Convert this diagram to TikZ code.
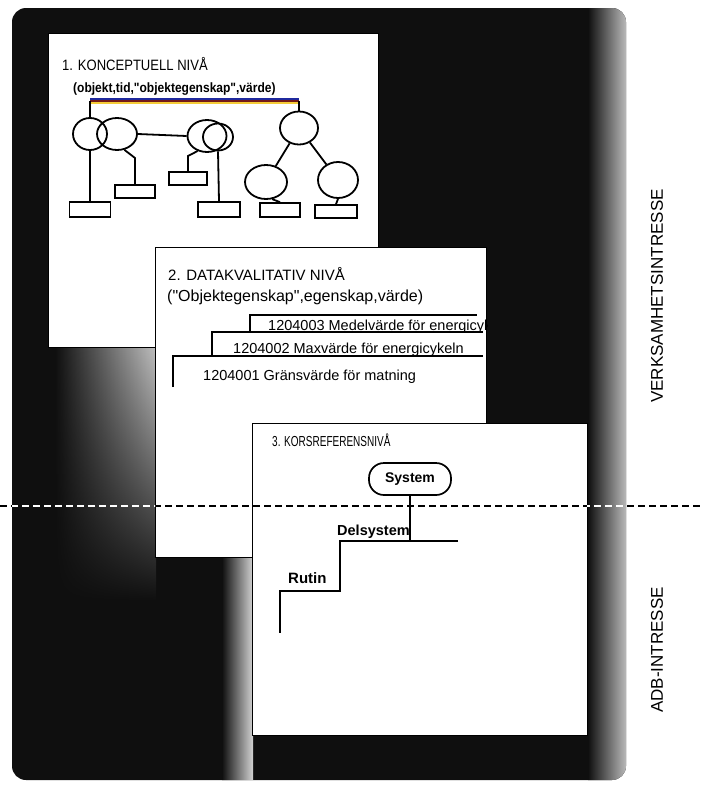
\documentclass[tikz,border=0pt]{standalone}
\usepackage{fontspec}
\setmainfont{Liberation Sans}[Ligatures=TeXOff]
\usetikzlibrary{shapes.geometric,fadings,calc}

\definecolor{panel}{gray}{0.06}
\definecolor{barblue}{rgb}{0.12,0.16,0.62}
\definecolor{barred}{rgb}{0.45,0.10,0.10}
\definecolor{baryellow}{rgb}{0.96,0.80,0.22}
\tikzfading[name=fadedown, top color=transparent!0, bottom color=transparent!100]

\begin{document}
\begin{tikzpicture}[x=1pt, y=-1pt,
  card/.style={draw=black, line width=1.3pt, fill=white, inner sep=0pt, anchor=north west},
  wire/.style={line width=1.8pt},
  obj/.style={ellipse, draw, line width=1.8pt, inner sep=0pt},
  val/.style={rectangle, draw, line width=1.7pt, inner sep=0pt},
  label/.style={inner sep=0pt, anchor=base west},
  rec/.style={inner sep=0pt, anchor=base west, font=\fontsize{14.5}{16}\selectfont},
  side/.style={inner sep=0pt, rotate=90, font=\fontsize{17}{19}\selectfont},
  cut/.style={line width=2pt, dash pattern=on 7pt off 4pt}
]
\useasboundingbox (0,0) rectangle (703,790);
\fill[white] (0,0) rectangle (703,790);

% dark backing panel with its lighter, faded areas
\fill[panel, rounded corners=14pt] (12,8) rectangle (626,780);
\begin{scope}
  \clip[rounded corners=14pt] (12,8) rectangle (626,780);
  \shade[left color=panel, right color=gray!55] (588,8) rectangle (626,780);
  \shade[left color=panel, right color=gray!50, path fading=fadedown] (55,347) rectangle (156,600);
  \shade[left color=panel, right color=gray!35] (222,557) rectangle (253,780);
\end{scope}

% ---- card 1: conceptual level ----
\node[card, minimum width=330, minimum height=314] (c1) at (48,33) {};
\node[label, font=\fontsize{15}{17}\selectfont] (t1) at (62,70) {\scalebox{0.87}[1]{1. KONCEPTUELL NIVÅ}};
\node[label, font=\bfseries\fontsize{13.5}{15}\selectfont] (s1) at (73,92) {\scalebox{0.89}[1]{(objekt,tid,"objektegenskap",värde)}};

\coordinate (barL) at (90,101);
\coordinate (barR) at (299,101);
\draw[barblue, line width=1.6pt] ($(barL)+(0,-2)$) -- ($(barR)+(0,-2)$);
\draw[barred, line width=1.6pt] (barL) -- (barR);
\draw[baryellow, line width=1.4pt] ($(barL)+(0,1.8)$) -- ($(barR)+(0,1.8)$);

\node[obj, minimum width=34, minimum height=32] (A) at (90,134) {};
\node[obj, minimum width=40, minimum height=32] (B) at (117,134) {};
\node[obj, minimum width=39, minimum height=32] (Co) at (207,136) {};
\node[obj, minimum width=30, minimum height=27] (Ci) at (218,137) {};
\node[obj, minimum width=38, minimum height=33] (D) at (299,128) {};
\node[obj, minimum width=42, minimum height=34] (E) at (266,182) {};
\node[obj, minimum width=40, minimum height=36] (F) at (338,180) {};

\node[val, minimum width=41, minimum height=15] (R1) at (90,209.5) {};
\node[val, minimum width=40, minimum height=13] (R2) at (135,191.5) {};
\node[val, minimum width=38, minimum height=13] (R3) at (188,178.5) {};
\node[val, minimum width=42, minimum height=15] (R4) at (219,209.5) {};
\node[val, minimum width=40, minimum height=14] (R5) at (280,210) {};
\node[val, minimum width=42, minimum height=13] (R6) at (336,211.5) {};

\coordinate (kB) at (135,158);
\coordinate (kC) at (188,156);
\draw[wire] (barL) -- (A.north);
\draw[wire] (barR) -- (D.north);
\draw[wire] (B.east) -- (Co.west);
\draw[wire] (A.south) -- (R1.north);
\draw[wire] (B.-65) -- (kB) -- (R2.north);
\draw[wire] (Co.-122) -- (kC) -- (R3.north);
\draw[wire] (Ci.south) -- (R4.north);
\draw[wire] (D) -- (E);
\draw[wire] (D) -- (F);
\draw[wire] (E.-70) -- (R5.north);
\draw[wire] (F.south) -- (R6.north);

% ---- card 2: data-qualitative level ----
\node[card, minimum width=331, minimum height=310] (c2) at (155,247) {};
\node[label, font=\fontsize{15}{17}\selectfont] (t2) at (168,280) {2. DATAKVALITATIV NIVÅ};
\node[label, font=\fontsize{16}{18}\selectfont] (s2) at (167,301) {("Objektegenskap",egenskap,värde)};

\begin{scope}
  \clip (c2.north west) rectangle (c2.south east);
  \node[rec] (r3) at (268,330) {1204003 Medelvärde för energicykeln};
  \node[rec] (r2) at (233,353) {1204002 Maxvärde för energicykeln};
  \node[rec] (r1) at (203,380) {1204001 Gränsvärde för matning};
\end{scope}
\draw[wire] (250,332) -- (250,315) -- (477,315);
\draw[wire] (212,356) -- (212,332) -- (483,332);
\draw[wire] (173,387) -- (173,356) -- (483,356);

% ---- card 3: cross-reference level ----
\node[card, minimum width=335, minimum height=312] (c3) at (252,423) {};
\node[label, font=\fontsize{14.5}{16}\selectfont] (t3) at (272,446) {\scalebox{0.69}[1]{3. KORSREFERENSNIVÅ}};
\node[draw, line width=1.7pt, rounded corners=15pt, minimum width=82, minimum height=32,
      font=\bfseries\fontsize{14}{16}\selectfont] (sys) at (410,479) {System};
\node[label, font=\bfseries\fontsize{14.5}{16}\selectfont] (del) at (337,535) {Delsystem};
\node[label, font=\bfseries\fontsize{15}{17}\selectfont] (rut) at (288,583) {Rutin};
\coordinate (jd) at (410,541);
\draw[wire] (sys.south) -- (jd);
\draw[wire] (458,541) -- (340,541) -- (340,591) -- (280,591) -- (280,633);

% ---- boundary between business and ADP interest ----
\coordinate (cutL) at (0,506);
\coordinate (cutR) at (703,506);
\draw[cut, black] (cutL) -- (cutR);
\begin{scope}
  \clip (12,490) rectangle (155,520) (587,490) rectangle (626,520);
  \draw[cut, white] (cutL) -- (cutR);
\end{scope}

\node[side] (verk) at (657,296) {VERKSAMHETSINTRESSE};
\node[side] (adb) at (657,650) {ADB-INTRESSE};
\end{tikzpicture}
\end{document}
